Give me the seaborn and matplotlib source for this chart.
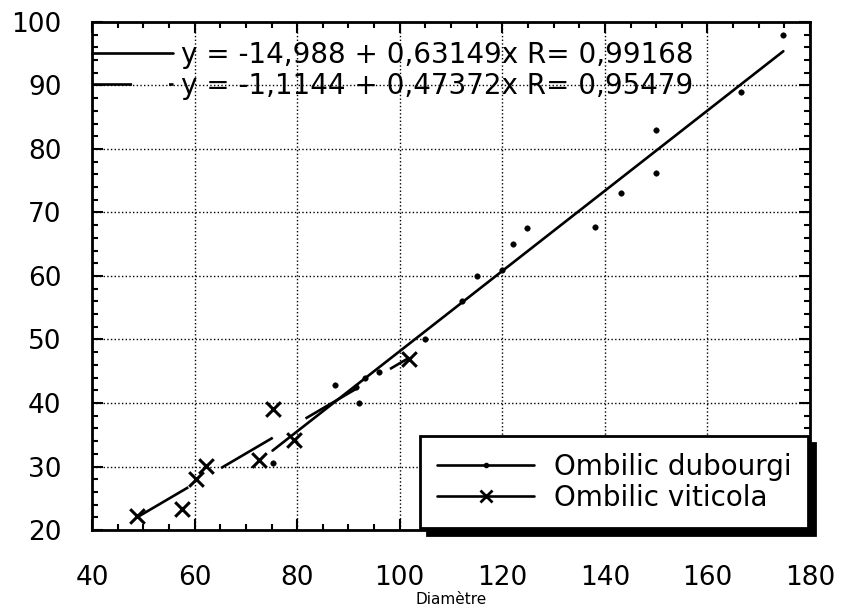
import numpy as np
import pandas as pd
import seaborn as sns
import matplotlib.pyplot as plt
from matplotlib.lines import Line2D
from matplotlib.ticker import MultipleLocator

# Ombilic dubourgi (points)
dub_diam = [75.2, 87.3, 91.4, 92.0, 93.2, 95.9, 105.0, 112.2, 115.1, 120.0,
            122.0, 124.9, 138.1, 143.1, 150.0, 150.0, 166.6, 174.8]
dub_val = [30.5, 42.9, 42.5, 40.0, 43.9, 44.9, 50.0, 56.1, 60.0, 60.9,
           65.1, 67.5, 67.7, 73.1, 76.2, 83.0, 89.0, 98.0]

# Ombilic viticola (croix)
vit_diam = [48.7, 57.5, 60.2, 62.3, 72.5, 75.2, 79.3, 101.9]
vit_val = [22.2, 23.3, 28.1, 30.1, 31.0, 39.0, 34.1, 46.9]

# droites de régression : ordonnée, pente
dub_fit = [-14.988, 0.63149]
vit_fit = [-1.1144, 0.47372]
fit_labels = ['y = -14,988 + 0,63149x R= 0,99168',
              'y = -1,1144 + 0,47372x R= 0,95479']
species = ['Ombilic dubourgi', 'Ombilic viticola']

sns.set_style('ticks')
plt.rcParams['font.family'] = ['DejaVu Sans']
plt.rcParams.update({'text.color': 'black', 'axes.labelcolor': 'black',
                     'xtick.color': 'black', 'ytick.color': 'black'})

fig = plt.figure(figsize=(8.48, 6.14), dpi=100)
ax = fig.add_axes([0.1085, 0.1368, 0.8467, 0.8274])

# droites
xd = np.array([min(dub_diam), max(dub_diam)])
xv = np.array([min(vit_diam), max(vit_diam)])
sns.lineplot(x=xd, y=dub_fit[0] + dub_fit[1] * xd, ax=ax, color='black', lw=1.9)
sns.lineplot(x=xv, y=vit_fit[0] + vit_fit[1] * xv, ax=ax, color='black', lw=1.9,
             linestyle=(0, (22.7, 14.4)))

# points
sns.scatterplot(x=dub_diam, y=dub_val, ax=ax, color='black', marker='o', s=16,
                edgecolor='black', zorder=3)
sns.scatterplot(x=vit_diam, y=vit_val, ax=ax, color='black', marker='x', s=110,
                linewidth=2.2, zorder=3)

ax.set_xlim(40, 180)
ax.set_ylim(20, 100)
ax.xaxis.set_major_locator(MultipleLocator(20))
ax.xaxis.set_minor_locator(MultipleLocator(5))
ax.yaxis.set_major_locator(MultipleLocator(10))
ax.yaxis.set_minor_locator(MultipleLocator(2))
ax.tick_params(which='both', direction='in', top=True, right=True, width=1.5, color='black')
ax.tick_params(which='major', length=8, labelsize=19)
ax.tick_params(axis='x', which='major', pad=25)
ax.tick_params(axis='y', which='major', pad=22)
ax.tick_params(which='minor', length=4)
ax.grid(True, which='major', color='black', linestyle=':', linewidth=1)
for s in ax.spines.values():
    s.set_linewidth(2)
    s.set_color('black')
ax.set_xlabel('Diamètre', fontsize=11, labelpad=1)

# légende des équations
h_fit = [Line2D([], [], color='black', lw=1.9),
         Line2D([], [], color='black', lw=1.9, linestyle=(0, (15, 14)))]
leg1 = ax.legend(h_fit, fit_labels, loc='upper left', bbox_to_anchor=(0.0, 0.963),
                 frameon=False, fontsize=20, borderpad=0, borderaxespad=0,
                 handlelength=2.9, handletextpad=0.3, labelspacing=0.1)
ax.add_artist(leg1)

# légende des espèces
h_sp = [Line2D([], [], color='black', lw=1.9, marker='o', ms=3),
        Line2D([], [], color='black', lw=1.9, marker='x', ms=8, mew=2)]
leg2 = ax.legend(h_sp, species, loc='lower right', bbox_to_anchor=(0.997, 0.003),
                 fontsize=20, borderpad=0.6, borderaxespad=0, handlelength=3.5,
                 handletextpad=0.7, labelspacing=0.1, fancybox=False, framealpha=1,
                 edgecolor='black',
                 shadow={'ox': 5, 'oy': -5, 'facecolor': 'black', 'edgecolor': 'black', 'alpha': 1})
leg2.get_frame().set_linewidth(2)

fig.savefig('out.png', dpi=100)
